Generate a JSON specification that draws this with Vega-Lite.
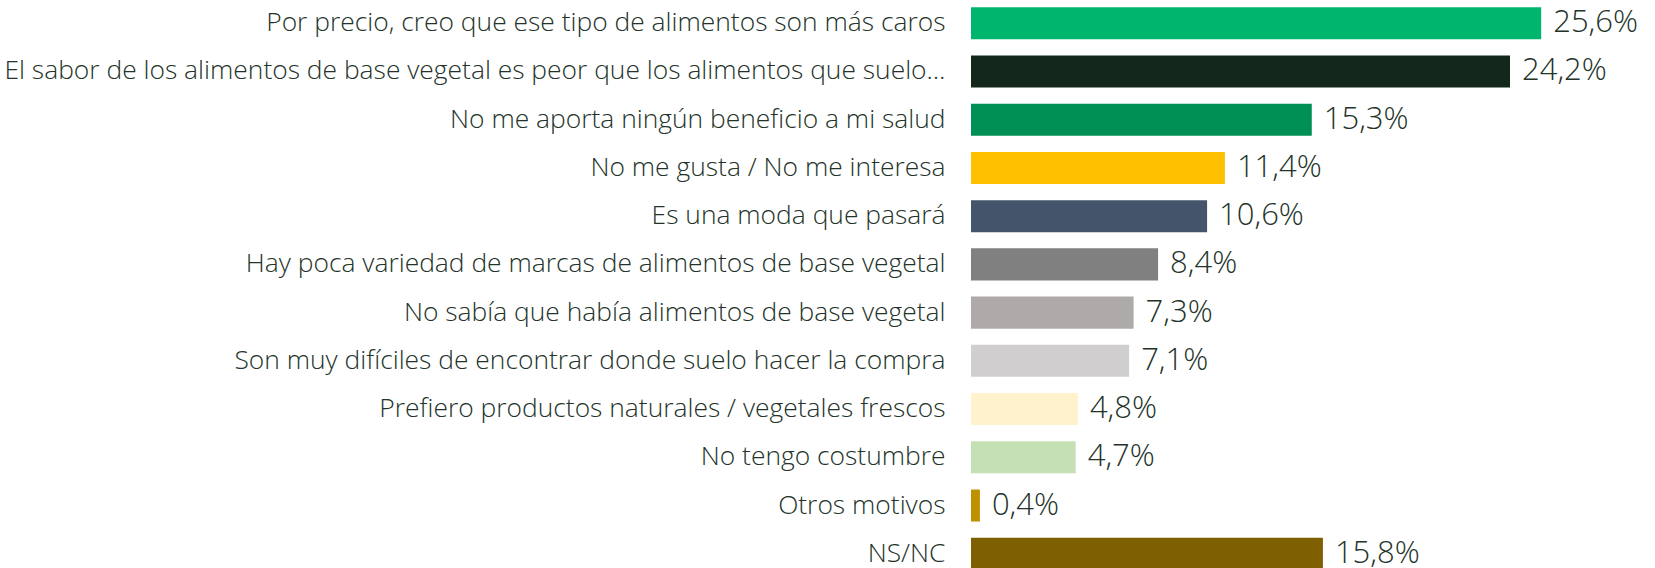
{
  "$schema": "https://vega.github.io/schema/vega-lite/v6.json",
  "width": 684,
  "height": 577,
  "autosize": {"type": "none"},
  "padding": {"left": 971, "top": 0, "right": 0, "bottom": 0},
  "background": "white",
  "config": {"view": {"stroke": null}},
  "data": {
    "values": [
      {"motivo": "Por precio, creo que ese tipo de alimentos son más caros", "pct": 25.6, "etiqueta": "25,6%"},
      {"motivo": "El sabor de los alimentos de base vegetal es peor que los alimentos que suelo…", "pct": 24.2, "etiqueta": "24,2%"},
      {"motivo": "No me aporta ningún beneficio a mi salud", "pct": 15.3, "etiqueta": "15,3%"},
      {"motivo": "No me gusta / No me interesa", "pct": 11.4, "etiqueta": "11,4%"},
      {"motivo": "Es una moda que pasará", "pct": 10.6, "etiqueta": "10,6%"},
      {"motivo": "Hay poca variedad de marcas de alimentos de base vegetal", "pct": 8.4, "etiqueta": "8,4%"},
      {"motivo": "No sabía que había alimentos de base vegetal", "pct": 7.3, "etiqueta": "7,3%"},
      {"motivo": "Son muy difíciles de encontrar donde suelo hacer la compra", "pct": 7.1, "etiqueta": "7,1%"},
      {"motivo": "Prefiero productos naturales / vegetales frescos", "pct": 4.8, "etiqueta": "4,8%"},
      {"motivo": "No tengo costumbre", "pct": 4.7, "etiqueta": "4,7%"},
      {"motivo": "Otros motivos", "pct": 0.4, "etiqueta": "0,4%"},
      {"motivo": "NS/NC", "pct": 15.8, "etiqueta": "15,8%"}
    ]
  },
  "encoding": {
    "y": {
      "field": "motivo",
      "type": "nominal",
      "sort": null,
      "scale": {"paddingInner": 0.336, "paddingOuter": 0.15},
      "axis": {
        "title": null,
        "domain": false,
        "ticks": false,
        "labelPadding": 26,
        "labelFontSize": 26.4,
        "labelFont": "Open Sans",
        "labelFontWeight": 300,
        "labelColor": "#233329",
        "labelLimit": 1000
      }
    },
    "x": {
      "field": "pct",
      "type": "quantitative",
      "scale": {"domain": [0, 30.71], "nice": false},
      "axis": null
    }
  },
  "layer": [
    {
      "mark": {"type": "bar"},
      "encoding": {
        "color": {
          "field": "motivo",
          "type": "nominal",
          "sort": null,
          "legend": null,
          "scale": {
            "domain": [
              "Por precio, creo que ese tipo de alimentos son más caros",
              "El sabor de los alimentos de base vegetal es peor que los alimentos que suelo…",
              "No me aporta ningún beneficio a mi salud",
              "No me gusta / No me interesa",
              "Es una moda que pasará",
              "Hay poca variedad de marcas de alimentos de base vegetal",
              "No sabía que había alimentos de base vegetal",
              "Son muy difíciles de encontrar donde suelo hacer la compra",
              "Prefiero productos naturales / vegetales frescos",
              "No tengo costumbre",
              "Otros motivos",
              "NS/NC"
            ],
            "range": ["#00b66f", "#13281a", "#008f55", "#ffc000", "#44546a", "#808080", "#aeaaaa", "#d0cece", "#fff2cc", "#c5e0b4", "#bf9000", "#7f6000"]
          }
        }
      }
    },
    {
      "mark": {"type": "text", "align": "left", "baseline": "middle", "dx": 12, "font": "Open Sans", "fontWeight": 300, "fontSize": 31, "color": "#233329"},
      "encoding": {"text": {"field": "etiqueta", "type": "nominal"}}
    }
  ]
}
